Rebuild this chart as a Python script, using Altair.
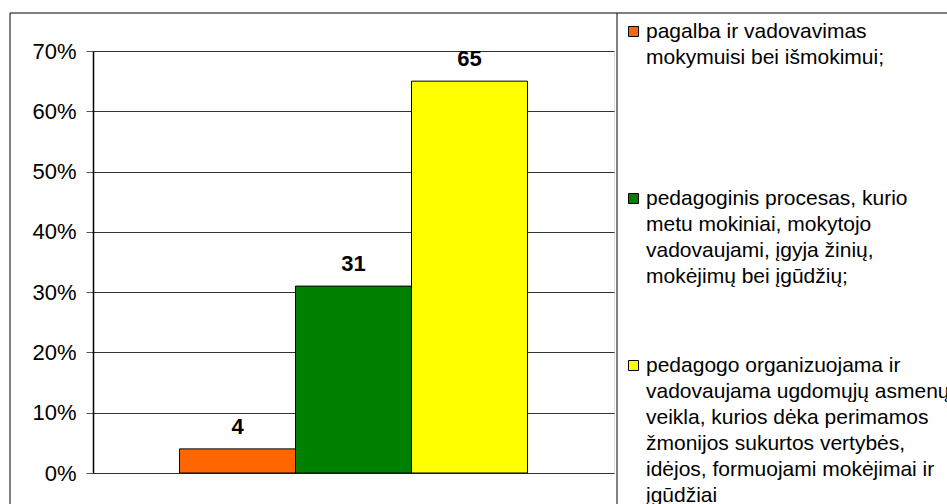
import altair as alt
import pandas as pd

# Legend texts (lines separated by "|"), values in percent, bar colours
series = [
    "pagalba ir vadovavimas|mokymuisi bei išmokimui;",
    "pedagoginis procesas, kurio|metu mokiniai, mokytojo|vadovaujami, įgyja žinių,|mokėjimų bei įgūdžių;",
    "pedagogo organizuojama ir|vadovaujama ugdomųjų asmenų|veikla, kurios dėka perimamos|žmonijos sukurtos vertybės,|idėjos, formuojami mokėjimai ir|įgūdžiai",
]
values = [4, 31, 65]
colors = ["#FF6600", "#008000", "#FFFF00"]
y_ticks = [0, 10, 20, 30, 40, 50, 60, 70]

df = pd.DataFrame({"series": series, "value": values})

FONT = "Liberation Sans"

x_enc = alt.X(
    "series:N",
    sort=series,
    axis=None,
    scale=alt.Scale(domain=series, paddingInner=0, paddingOuter=0.746),
)
y_enc = alt.Y(
    "value:Q",
    scale=alt.Scale(domain=[0, 70], nice=False),
    axis=alt.Axis(
        values=y_ticks,
        labelExpr="datum.value + '%'",
        title=None,
        grid=True,
        gridColor="#333333",
        gridWidth=1,
        domainColor="#000000",
        domainWidth=1.5,
        tickColor="#555555",
        tickSize=7,
        labelPadding=10,
        labelFont=FONT,
        labelFontSize=22,
        labelColor="#000000",
    ),
)

legend = alt.Legend(
    title=None,
    orient="none",
    legendX=530,
    legendY=-30,
    padding=0,
    symbolType="square",
    symbolSize=100,
    symbolStrokeColor="#000000",
    symbolStrokeWidth=1,
    symbolOpacity=1,
    labelFont=FONT,
    labelFontSize=21,
    labelColor="#000000",
    labelLimit=600,
    labelExpr="split(datum.label, '|')",
    labelBaseline="middle",
    labelOffset=2,
    gridAlign="all",
    rowPadding=15,
)

bars = alt.Chart(df).mark_bar(stroke="#000000", strokeWidth=1, opacity=1).encode(
    x=x_enc,
    y=y_enc,
    color=alt.Color("series:N", scale=alt.Scale(domain=series, range=colors), legend=legend),
)

value_labels = alt.Chart(df).mark_text(
    baseline="alphabetic", dy=-15, font=FONT, fontSize=22, fontWeight="bold", color="#000000"
).encode(x=x_enc, y=alt.Y("value:Q"), text="value:Q")

# Chart-area frame and the divider between plot and legend
frame = alt.Chart(pd.DataFrame({"k": [0]})).mark_rect(
    fill="transparent", stroke="#000000", strokeWidth=1
).encode(x=alt.value(-83), x2=alt.value(900), y=alt.value(-38), y2=alt.value(500))

divider = alt.Chart(pd.DataFrame({"k": [0]})).mark_rule(
    stroke="#000000", strokeWidth=1
).encode(x=alt.value(524), y=alt.value(-38), y2=alt.value(500))

chart = (
    alt.layer(frame, divider, bars, value_labels)
    .properties(
        width=521,
        height=422,
        autosize=alt.AutoSizeParams(type="none"),
        padding={"left": 93, "top": 51, "right": 333, "bottom": 31},
        background="#ffffff",
    )
    .configure_view(stroke="#000000", strokeWidth=1.5)
    .configure(style={"guide-label": {"lineHeight": 26}})
)

chart.save("out.html", embed_options={"renderer": "svg", "actions": False})
